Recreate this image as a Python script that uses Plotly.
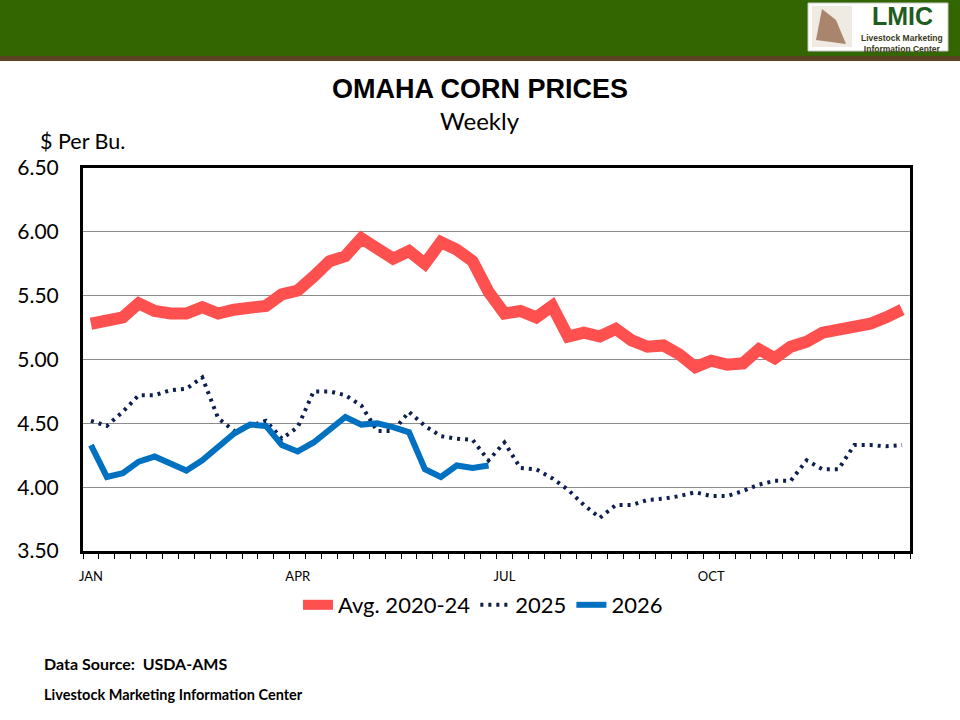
import plotly.graph_objects as go

# ---------------- data ----------------
weeks = list(range(1, 53))
month_ticks = [1, 14, 27, 40]
month_labels = ["JAN", "APR", "JUL", "OCT"]

avg_2020_24 = [5.28, 5.31, 5.33, 5.44, 5.38, 5.36, 5.36, 5.41, 5.36, 5.39,
               5.40, 5.42, 5.51, 5.54, 5.65, 5.77, 5.81, 5.95, 5.87, 5.79,
               5.85, 5.75, 5.92, 5.86, 5.77, 5.53, 5.36, 5.38, 5.33, 5.42,
               5.18, 5.21, 5.18, 5.24, 5.15, 5.10, 5.11, 5.04, 4.94, 4.99,
               4.96, 4.97, 5.08, 5.01, 5.10, 5.14, 5.21, 5.23, 5.26, 5.28,
               5.33, 5.39]
y2025 = [4.52, 4.48, 4.59, 4.72, 4.72, 4.76, 4.77, 4.86, 4.54, 4.44,
         4.48, 4.52, 4.38, 4.47, 4.75, 4.75, 4.72, 4.64, 4.44, 4.44,
         4.59, 4.48, 4.40, 4.38, 4.37, 4.21, 4.35, 4.15, 4.14, 4.07,
         3.98, 3.86, 3.76, 3.86, 3.86, 3.90, 3.91, 3.93, 3.96, 3.93,
         3.93, 3.97, 4.02, 4.05, 4.05, 4.21, 4.14, 4.14, 4.33, 4.33,
         4.32, 4.33]
y2026 = [4.33, 4.08, 4.11, 4.20, 4.24, 4.19, 4.13, 4.21, 4.32, 4.42,
         4.49, 4.48, 4.33, 4.28, 4.35, 4.45, 4.55, 4.49, 4.50, 4.47,
         4.43, 4.14, 4.08, 4.17, 4.15, 4.17]

# ---------------- layout geometry ----------------
W, H = 960, 720
L, R, T, B = 83, 910, 168, 551   # plot area in pixels


def px(x):
    return (x - L) / (R - L)


def py(y):
    return (B - y) / (B - T)


fig = go.Figure()
fig.add_trace(go.Scatter(x=weeks, y=avg_2020_24, mode="lines", name="Avg. 2020-24",
                         line=dict(color="#FF5050", width=12)))
fig.add_trace(go.Scatter(x=weeks[:len(y2025)], y=y2025, mode="lines", name="2025",
                         line=dict(color="#0C1F4F", width=4, dash="3px,5px")))
fig.add_trace(go.Scatter(x=weeks[:len(y2026)], y=y2026, mode="lines", name="2026",
                         line=dict(color="#0070C0", width=6)))

shapes = [
    # header band
    dict(type="rect", xref="paper", yref="paper", x0=px(0), x1=px(W), y0=py(0), y1=py(56),
         fillcolor="#336600", line=dict(width=0), layer="above"),
    dict(type="rect", xref="paper", yref="paper", x0=px(0), x1=px(W), y0=py(56), y1=py(61),
         fillcolor="#5A4424", line=dict(width=0), layer="above"),
    # logo box
    dict(type="rect", xref="paper", yref="paper", x0=px(808), x1=px(948), y0=py(3), y1=py(51),
         fillcolor="white", line=dict(color="#C8C8C8", width=1), layer="above"),
    dict(type="rect", xref="paper", yref="paper", x0=px(812), x1=px(852), y0=py(6), y1=py(47),
         fillcolor="#EFEAE2", line=dict(width=0), layer="above"),
    dict(type="path", xref="paper", yref="paper",
         path="M {} {} L {} {} L {} {} L {} {} Z".format(px(822), py(9), px(836), py(20),
                                                         px(846), py(44), px(816), py(40)),
         fillcolor="#8B5A3C", line=dict(width=0), opacity=0.7, layer="above"),
]

annotations = [
    dict(text="<b>LMIC</b>", x=px(902), y=py(16), xref="paper", yref="paper", showarrow=False,
         font=dict(family="Liberation Sans", size=25, color="#1F5C1F"), xanchor="center", yanchor="middle"),
    dict(text="<b>Livestock Marketing</b><br><b>Information Center</b>", x=px(902), y=py(30.5),
         xref="paper", yref="paper", showarrow=False, align="center",
         font=dict(family="Liberation Sans Narrow, Liberation Sans", size=8.5, color="#3A3A1A"),
         xanchor="center", yanchor="top"),
    dict(text="<b>OMAHA CORN PRICES</b>", x=px(480), y=py(89), xref="paper", yref="paper",
         showarrow=False, font=dict(family="Liberation Sans Narrow, Liberation Sans", size=27, color="black"),
         xanchor="center", yanchor="middle"),
    dict(text="Weekly", x=px(480), y=py(121), xref="paper", yref="paper", showarrow=False,
         font=dict(family="Lato", size=24, color="black"), xanchor="center", yanchor="middle"),
    dict(text="$ Per Bu.", x=px(38), y=py(141), xref="paper", yref="paper", showarrow=False,
         font=dict(family="Lato", size=21.5, color="black"), xanchor="left", yanchor="middle"),
    dict(text="<b>Data Source:  USDA-AMS</b>", x=px(42), y=py(663), xref="paper", yref="paper",
         showarrow=False, font=dict(family="Lato", size=16, color="black"), xanchor="left", yanchor="middle"),
    dict(text="<b>Livestock Marketing Information Center</b>", x=px(42), y=py(694), xref="paper",
         yref="paper", showarrow=False, font=dict(family="Lato", size=14.5, color="black"),
         xanchor="left", yanchor="middle"),
]

fig.update_layout(
    width=W, height=H,
    margin=dict(l=L, r=W - R, t=T, b=H - B, pad=0),
    paper_bgcolor="white", plot_bgcolor="white",
    shapes=shapes, annotations=annotations,
    showlegend=True,
    legend=dict(orientation="h", x=px(483), xanchor="center", y=py(605), yanchor="middle",
                font=dict(family="Lato", size=22, color="black"), bgcolor="rgba(0,0,0,0)",
                itemwidth=30, tracegroupgap=0),
    xaxis=dict(range=[0.5, 52.5], tickmode="array", tickvals=month_ticks, ticktext=month_labels,
               ticks="", showgrid=False, zeroline=False,
               showline=True, linecolor="black", linewidth=3, mirror=True,
               tickfont=dict(family="Lato", size=13, color="black"),
               ticklabelstandoff=11,
               minor=dict(tick0=0.5, dtick=1, ticks="outside", ticklen=5, tickwidth=1,
                          tickcolor="black", showgrid=False)),
    yaxis=dict(range=[3.5, 6.5], dtick=0.5, tickformat=".2f", ticks="",
               showgrid=True, gridcolor="#8C8C8C", gridwidth=1, zeroline=False,
               showline=True, linecolor="black", linewidth=3, mirror=True,
               tickfont=dict(family="Lato", size=21, color="black"),
               ticklabelstandoff=17),
)

fig.write_html("out.html")
